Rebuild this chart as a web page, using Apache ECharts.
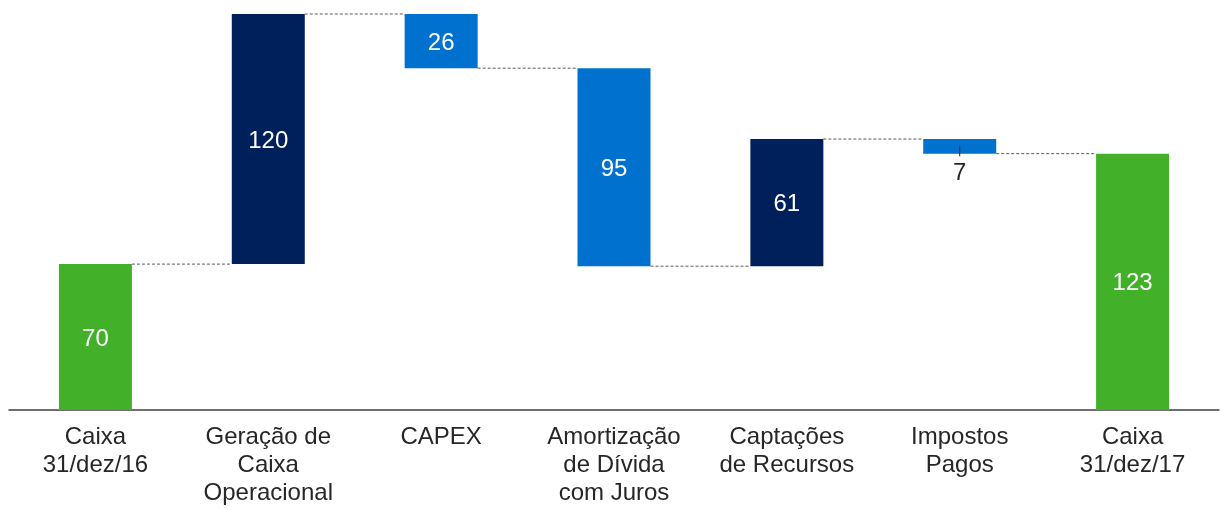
<!DOCTYPE html>
<html><head><meta charset="utf-8">
<script src="https://cdn.jsdelivr.net/npm/echarts@6/dist/echarts.min.js"></script>
<style>html,body{margin:0;padding:0;background:#fff}#c{width:1221px;height:509px}</style>
</head><body><div id="c"></div>
<script>
const categories = ["Caixa\n31/dez/16", "Geração de\nCaixa\nOperacional", "CAPEX", "Amortização\nde Dívida\ncom Juros", "Captações\nde Recursos", "Impostos\nPagos", "Caixa\n31/dez/17"];
const changes = [70, 120, -26, -95, 61, -7, 123];
const kinds = ["total", "up", "down", "down", "up", "down", "total"];
const colors = { total: "#43B02A", up: "#00205B", down: "#0071CE" };

const base = [], size = [], level = [];
let run = 0;
changes.forEach((v, i) => {
  if (kinds[i] === "total") { base.push(0); size.push(v); run = v; }
  else if (v >= 0) { base.push(run); size.push(v); run += v; }
  else { run += v; base.push(run); size.push(-v); }
  level.push(run);
});

const BW = 73;
const FONT = 'Arial, "Liberation Sans", sans-serif';
const chart = echarts.init(document.getElementById('c'));
chart.setOption({
  animation: false,
  grid: { left: 9, right: 2, top: 14, bottom: 99, containLabel: false },
  xAxis: {
    type: 'category', data: categories,
    axisLine: { lineStyle: { color: '#404040', width: 1.5 } },
    axisTick: { show: false },
    axisLabel: { interval: 0, color: '#262626', fontFamily: FONT, fontSize: 24, lineHeight: 28, margin: 13 }
  },
  yAxis: { type: 'value', min: 0, max: 190, show: false, splitLine: { show: false } },
  series: [
    { type: 'bar', stack: 'w', data: base, barWidth: BW, itemStyle: { color: 'transparent' }, silent: true },
    {
      type: 'bar', stack: 'w', barWidth: BW,
      data: size.map((v, i) => ({
        value: v,
        itemStyle: { color: colors[kinds[i]] },
        label: v < 15 ? { position: 'bottom', distance: 8, color: '#262626', offset: [0, 0] } : {}
      })),
      label: {
        show: true, position: 'inside', color: '#fff', fontFamily: FONT, fontSize: 24, offset: [0, 2],
        formatter: p => String(Math.abs(changes[p.dataIndex]))
      }
    },
    {
      type: 'custom', silent: true, z: 5,
      data: level.slice(0, level.length - 1).map((l, i) => [i, l]),
      renderItem: (params, api) => {
        const i = api.value(0), l = api.value(1);
        const p1 = api.coord([i, l]), p2 = api.coord([i + 1, l]);
        return {
          type: 'line',
          shape: { x1: p1[0] + BW / 2, y1: p1[1], x2: p2[0] - BW / 2, y2: p1[1] },
          style: { stroke: '#595959', lineWidth: 1, lineDash: [3, 2] }
        };
      }
    },
    {
      type: 'custom', silent: true, z: 6,
      data: size.map((v, i) => [i, base[i] + v / 2, v]).filter(d => d[2] < 15),
      renderItem: (params, api) => {
        const p = api.coord([api.value(0), api.value(1)]);
        return { type: 'line', shape: { x1: p[0], y1: p[1], x2: p[0], y2: p[1] + 10 }, style: { stroke: '#262626', lineWidth: 1 } };
      }
    }
  ]
});
</script></body></html>
